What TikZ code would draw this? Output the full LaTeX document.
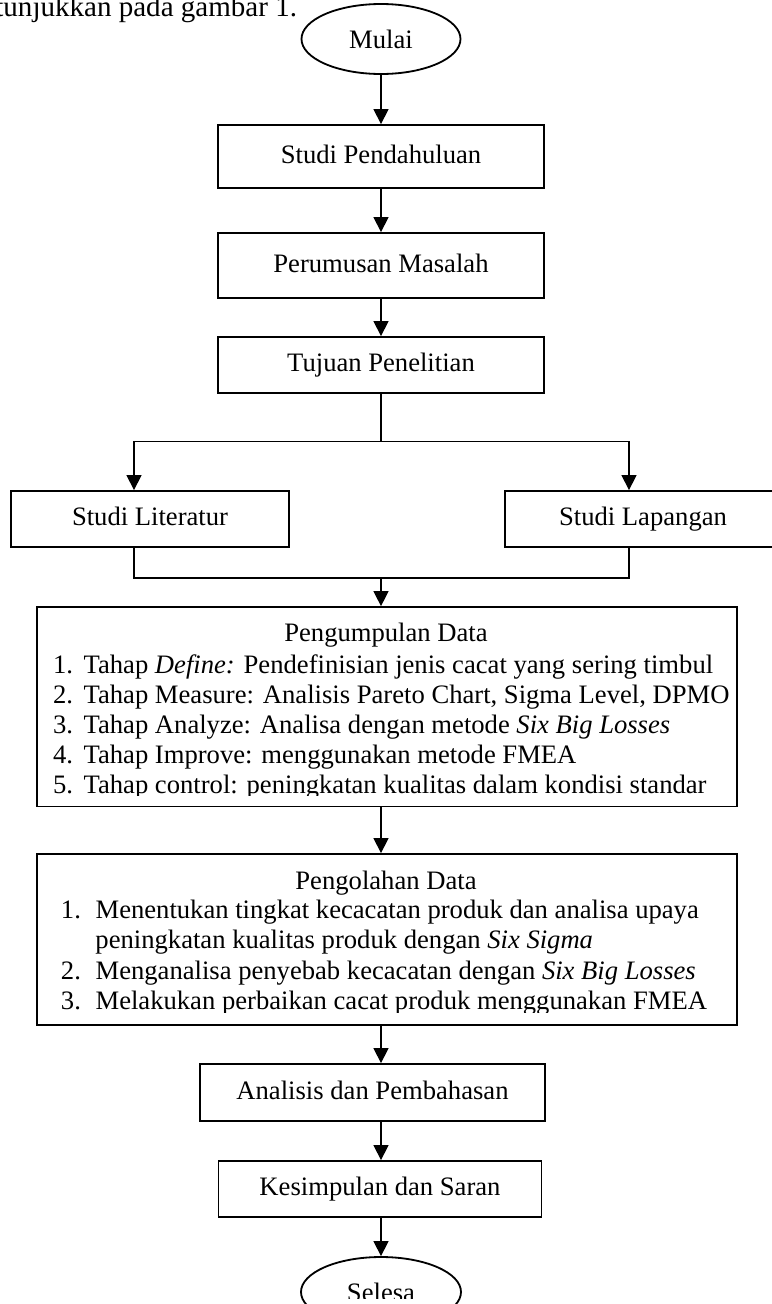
\documentclass[tikz,border=0pt]{standalone}
\usepackage{fontspec}
\setmainfont{Liberation Serif}
\usetikzlibrary{arrows.meta,shapes.geometric}

\def\satuan{0.4132pt}

\begin{document}
\begin{tikzpicture}[x=0.4132pt, y=-0.4132pt,
		font=\fontsize{11}{12.6}\selectfont,
		kotak/.style={draw, line width=0.75pt, inner sep=0pt, text height=9pt, text depth=3.5pt},
		oval/.style={draw, ellipse, line width=0.75pt, inner sep=0pt},
		garis/.style={line width=0.55pt},
		panah/.style={line width=0.55pt, -{Triangle[width=6.2pt, length=6.2pt]}},
		baris/.style={anchor=base west, inner sep=0pt}]
		\useasboundingbox (0,0) rectangle (772,1304);
		\node[anchor=base east, inner sep=0pt, font=\fontsize{12}{14}\selectfont] (pengantar) at (297.5,17) {tunjukkan pada gambar 1.};
		\node[oval, minimum width=159*\satuan, minimum height=70*\satuan] (mulai) at (381,39) {Mulai};
		\node[kotak, minimum width=326*\satuan, minimum height=63*\satuan] (pendahuluan) at (381,156.5) {Studi Pendahuluan};
		\node[kotak, minimum width=326*\satuan, minimum height=65*\satuan] (rumusan) at (381,265.5) {Perumusan Masalah};
		\node[kotak, minimum width=326*\satuan, minimum height=56*\satuan] (tujuan) at (381,365) {Tujuan Penelitian};
		\node[kotak, minimum width=277.5*\satuan, minimum height=56*\satuan] (literatur) at (150,519) {Studi Literatur};
		\node[kotak, minimum width=276*\satuan, minimum height=56*\satuan] (lapangan) at (643,519) {Studi Lapangan};
		\node[kotak, minimum width=699.5*\satuan, minimum height=199.5*\satuan] (kumpul) at (387,706.8) {};
		\node[kotak, minimum width=699.5*\satuan, minimum height=171*\satuan] (olah) at (387,939.5) {};
		\node[kotak, minimum width=345*\satuan, minimum height=57*\satuan] (analisis) at (372.5,1092.5) {Analisis dan Pembahasan};
		\node[kotak, minimum width=323*\satuan, minimum height=56*\satuan] (simpulan) at (380,1189) {Kesimpulan dan Saran};
		\node[oval, minimum width=160*\satuan, minimum height=70*\satuan] (selesai) at (381,1292) {};
		\coordinate (cabang) at (381,441.5);
		\coordinate (kiri) at (134,441.5);
		\coordinate (kanan) at (629,441.5);
		\coordinate (gabung) at (381,578);
		\draw[panah] (mulai) -- (pendahuluan);
		\draw[panah] (pendahuluan) -- (rumusan);
		\draw[panah] (rumusan) -- (tujuan);
		\draw[garis] (tujuan) -- (cabang);
		\draw[panah] (cabang) -| (literatur.north -| kiri);
		\draw[panah] (cabang) -| (lapangan.north -| kanan);
		\draw[garis] (literatur.south -| kiri) |- (gabung) -| (lapangan.south -| kanan);
		\draw[panah] (gabung) -- (kumpul.north -| gabung);
		\draw[panah] (kumpul.south -| gabung) -- (olah.north -| gabung);
		\draw[panah] (olah.south -| gabung) -- (analisis.north -| gabung);
		\draw[panah] (analisis.south -| gabung) -- (simpulan.north -| gabung);
		\draw[panah] (simpulan.south -| gabung) -- (selesai.north -| gabung);
		\node[anchor=base, inner sep=0pt] (judulkumpul) at (386,641.7) {Pengumpulan Data};
		\begin{scope}
			\clip (37,607) rectangle (736,795);
			\node[baris] (k1) at (52.7,673.3) {\makebox[12.6pt][l]{1.}Tahap \textit{Define:} Pendefinisian jenis cacat yang sering timbul};
			\node[baris] (k2) at (52.7,703.4) {\makebox[12.6pt][l]{2.}Tahap Measure: Analisis Pareto Chart, Sigma Level, DPMO};
			\node[baris] (k3) at (52.7,733.5) {\makebox[12.6pt][l]{3.}Tahap Analyze: Analisa dengan metode \textit{Six Big Losses}};
			\node[baris] (k4) at (52.7,763.5) {\makebox[12.6pt][l]{4.}Tahap Improve: menggunakan metode FMEA};
			\node[baris] (k5) at (52.7,793.8) {\makebox[12.6pt][l]{5.}Tahap control: peningkatan kualitas dalam kondisi standar};
		\end{scope}
		\node[anchor=base, inner sep=0pt] (judulolah) at (386,889) {Pengolahan Data};
		\begin{scope}
			\clip (37,854) rectangle (736,1012.5);
			\node[baris] (o1) at (60.5,918.3) {\makebox[14.3pt][l]{1.}Menentukan tingkat kecacatan produk dan analisa upaya};
			\node[baris] (o2) at (95,948.8) {peningkatan kualitas produk dengan \textit{Six Sigma}};
			\node[baris] (o3) at (60.5,979.3) {\makebox[14.3pt][l]{2.}Menganalisa penyebab kecacatan dengan \textit{Six Big Losses}};
			\node[baris] (o4) at (60.5,1009.8) {\makebox[14.3pt][l]{3.}Melakukan perbaikan cacat produk menggunakan FMEA};
		\end{scope}
		\begin{scope}
			\clip (290,1250) rectangle (470,1298.5);
			\node[anchor=base, inner sep=0pt] (selesa) at (381,1301) {Selesa};
		\end{scope}
		\end{tikzpicture}
\end{document}
